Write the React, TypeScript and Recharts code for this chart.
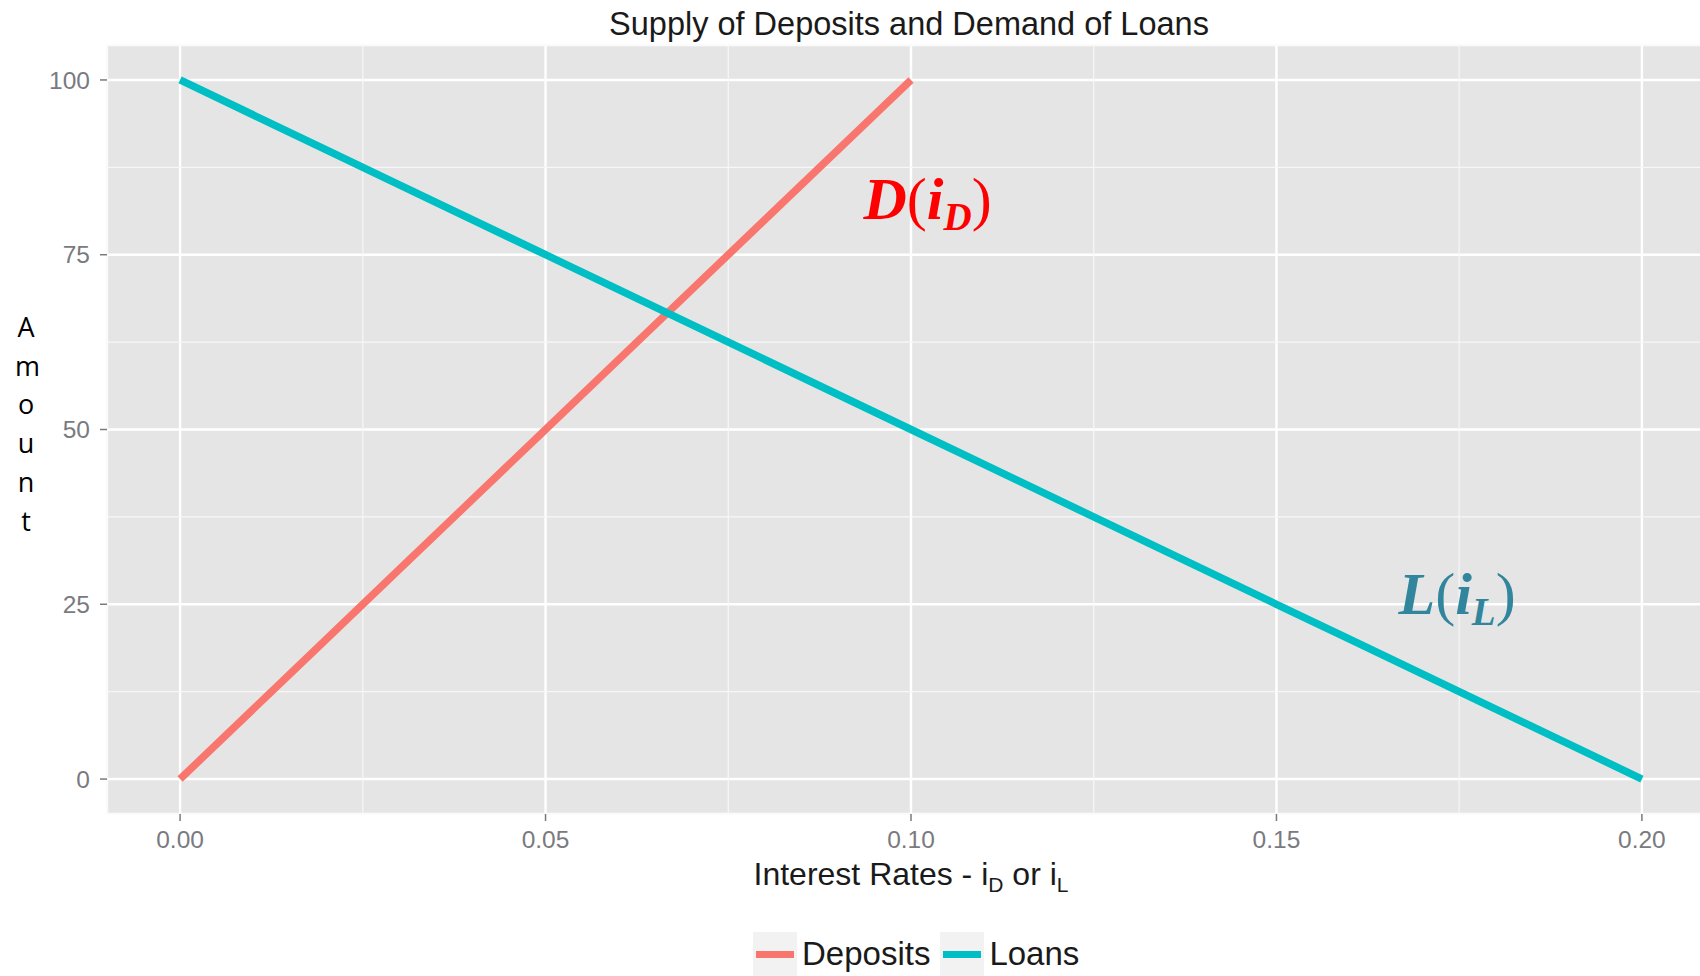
import { LineChart, Line, XAxis, YAxis, CartesianGrid, ReferenceDot } from 'recharts';

const depositRates = [0, 0.02, 0.03, 0.05, 0.08, 0.1];
const depositAmounts = [0, 20, 30, 50, 80, 100];
const loanRates = [0, 0.02, 0.03, 0.05, 0.06, 0.07, 0.1, 0.11, 0.13, 0.15, 0.16, 0.18, 0.2];
const loanAmounts = [100, 90, 85, 75, 70, 65, 50, 45, 35, 25, 20, 10, 0];

const xTicks = [0, 0.05, 0.1, 0.15, 0.2];
const xMinorTicks = [0.025, 0.075, 0.125, 0.175];
const yTicks = [0, 25, 50, 75, 100];
const yMinorTicks = [12.5, 37.5, 62.5, 87.5];

const deposits = depositRates.map((x, i) => ({ x, y: depositAmounts[i] }));
const loans = loanRates.map((x, i) => ({ x, y: loanAmounts[i] }));

const DEP = '#F8766D';
const LOAN = '#00BFC4';
const sans = '"Liberation Sans", Arial, sans-serif';
const tickStyle = { fill: '#7a7a80', fontSize: 24.5, fontFamily: sans };

const mathLabel = (main: string, sub: string, color: string) => (props: any) => {
  const vb = props.viewBox || {};
  return (
    <text x={vb.x} y={vb.y} fill={color} fontFamily='"Liberation Serif", serif' fontSize={60}>
      <tspan fontStyle="italic" fontWeight="bold">{main}</tspan>
      <tspan>(</tspan>
      <tspan fontStyle="italic" fontWeight="bold">i</tspan>
      <tspan fontStyle="italic" fontWeight="bold" fontSize={39} dy={11}>{sub}</tspan>
      <tspan dy={-11}>)</tspan>
    </text>
  );
};

const LegendKey = ({ color, label }: { color: string; label: string }) => (
  <div style={{ display: 'flex', alignItems: 'center', marginRight: 10 }}>
    <div style={{ width: 44, height: 44, background: '#F2F2F2', display: 'flex', alignItems: 'center', justifyContent: 'center' }}>
      <div style={{ width: 38, height: 7, background: color }} />
    </div>
    <span style={{ marginLeft: 5, fontSize: 33, fontFamily: sans, color: '#1a1a1a' }}>{label}</span>
  </div>
);

const App = () => {
  return (
    <div style={{ position: 'fixed', left: 0, top: 0, width: 1700, height: 976, overflow: 'hidden', background: '#fff' }}>
      <div style={{ position: 'absolute', left: 909, top: 8, transform: 'translateX(-50%)', fontSize: 32.5, lineHeight: '32px', fontFamily: sans, color: '#1a1a1a', whiteSpace: 'nowrap' }}>
        Supply of Deposits and Demand of Loans
      </div>
      <div style={{ position: 'absolute', left: 0, top: 0 }}>
        <LineChart width={1715} height={976} margin={{ top: 45, right: 0, bottom: 102, left: 0 }}>
          <CartesianGrid fill="#E5E5E5" stroke="#ffffff" strokeWidth={2.4} />
          <CartesianGrid xAxisId="minor" yAxisId="minor" fill="none" stroke="#f7f7f7" strokeWidth={1.2} />
          <XAxis
            dataKey="x"
            type="number"
            domain={[-0.01, 0.21]}
            ticks={xTicks}
            tickFormatter={(v: number) => v.toFixed(2)}
            axisLine={false}
            tickLine={{ stroke: '#7a7a7a', strokeWidth: 1.5 }}
            tickSize={7}
            tickMargin={10}
            tick={tickStyle}
            height={60}
            allowDataOverflow
          />
          <XAxis xAxisId="minor" dataKey="x" type="number" domain={[-0.01, 0.21]} ticks={xMinorTicks} hide allowDataOverflow />
          <YAxis
            type="number"
            domain={[-5, 105]}
            ticks={yTicks}
            axisLine={false}
            tickLine={{ stroke: '#7a7a7a', strokeWidth: 1.5 }}
            tickSize={7}
            tickMargin={10}
            tick={tickStyle}
            width={107}
            allowDataOverflow
          />
          <YAxis yAxisId="minor" type="number" domain={[-5, 105]} ticks={yMinorTicks} hide allowDataOverflow />
          <Line data={deposits} dataKey="y" stroke={DEP} strokeWidth={7.5} dot={false} isAnimationActive={false} />
          <Line data={loans} dataKey="y" stroke={LOAN} strokeWidth={7.5} dot={false} isAnimationActive={false} />
          <ReferenceDot x={0.0935} y={80.1} r={0} fill="none" stroke="none" label={mathLabel('D', 'D', '#FF0000')} />
          <ReferenceDot x={0.1667} y={23.6} r={0} fill="none" stroke="none" label={mathLabel('L', 'L', '#31859C')} />
        </LineChart>
      </div>
      <div style={{ position: 'absolute', left: 911, top: 859, transform: 'translateX(-50%)', fontSize: 32, lineHeight: '31px', fontFamily: sans, color: '#1a1a1a', whiteSpace: 'nowrap' }}>
        Interest Rates - i<sub style={{ fontSize: 21 }}>D</sub> or i<sub style={{ fontSize: 21 }}>L</sub>
      </div>
      <div style={{ position: 'absolute', left: 15, top: 308, width: 22, textAlign: 'center', fontSize: 27, lineHeight: '38.7px', fontFamily: '"Open Sans", sans-serif', color: '#000' }}>
        {'Amount'.split('').map((c, i) => (
          <div key={i}>{c}</div>
        ))}
      </div>
      <div style={{ position: 'absolute', left: 753, top: 932, display: 'flex' }}>
        <LegendKey color={DEP} label="Deposits" />
        <LegendKey color={LOAN} label="Loans" />
      </div>
    </div>
  );
};

export default App;
